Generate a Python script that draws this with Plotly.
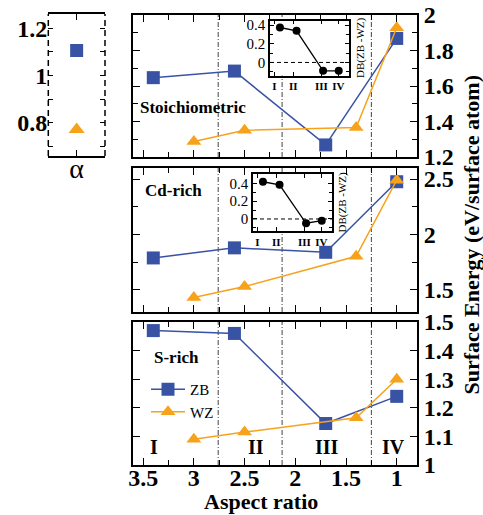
import plotly.graph_objects as go

W, H = 483, 515
FONT = "Liberation Serif, Times New Roman, serif"

# ---------------- data ----------------
aspect_zb = [3.4, 2.6, 1.7, 1.0]
aspect_wz = [3.0, 2.5, 1.4, 1.0]
stoich_zb = [1.647, 1.684, 1.268, 1.868]
stoich_wz = [1.287, 1.351, 1.366, 1.928]
cd_zb = [1.788, 1.879, 1.839, 2.476]
cd_wz = [1.43, 1.53, 1.803, 2.49]
s_zb = [1.47, 1.46, 1.145, 1.24]
s_wz = [1.09, 1.115, 1.165, 1.30]
alpha_zb = [1.106]
alpha_wz = [0.772]
region_bounds = [2.76, 2.13, 1.25]
region_labels = ["I", "II", "III", "IV"]
region_label_x = [3.39, 2.39, 1.69, 1.03]
inset_x = [0.63, 1.68, 3.36, 4.35]
inset_tick_x = [0.27, 1.47, 3.25, 4.33]
db_stoich = [0.375, 0.339, -0.09, -0.09]
db_cd = [0.418, 0.384, -0.048, -0.019]

ZB_COLOR = "#3953A4"
WZ_COLOR = "#F7A21B"


def xd(a, b):
    return [a / W, b / W]


def yd(top, bottom):
    return [1 - bottom / H, 1 - top / H]


fig = go.Figure()

panels = [
    ("x", "y", stoich_zb, stoich_wz, False),
    ("x2", "y2", cd_zb, cd_wz, False),
    ("x3", "y3", s_zb, s_wz, True),
]
for xa, ya, zb, wz, leg in panels:
    fig.add_trace(go.Scatter(x=aspect_zb, y=zb, xaxis=xa, yaxis=ya, name="ZB",
                             mode="lines+markers", showlegend=leg,
                             line=dict(color=ZB_COLOR, width=1.5),
                             marker=dict(symbol="square", size=13, color=ZB_COLOR)))
    fig.add_trace(go.Scatter(x=aspect_wz, y=wz, xaxis=xa, yaxis=ya, name="WZ",
                             mode="lines+markers", showlegend=leg,
                             line=dict(color=WZ_COLOR, width=1.5),
                             marker=dict(symbol="triangle-up", size=13, color=WZ_COLOR)))

# alpha panel
fig.add_trace(go.Scatter(x=[0], y=alpha_zb, xaxis="x4", yaxis="y4", mode="markers", showlegend=False,
                         marker=dict(symbol="square", size=13, color=ZB_COLOR)))
fig.add_trace(go.Scatter(x=[0], y=alpha_wz, xaxis="x4", yaxis="y4", mode="markers", showlegend=False,
                         marker=dict(symbol="triangle-up", size=14, color=WZ_COLOR)))

# insets
for xa, ya, vals in [("x5", "y5", db_stoich), ("x6", "y6", db_cd)]:
    fig.add_trace(go.Scatter(x=inset_x, y=vals, xaxis=xa, yaxis=ya, mode="lines+markers",
                             showlegend=False, line=dict(color="black", width=1.3),
                             marker=dict(symbol="circle", size=8, color="black")))

tickfont_big = dict(family=FONT, size=24, color="black", weight="bold")

main_x_common = dict(range=[3.6, 0.8], showline=True, linecolor="black", linewidth=2,
                     mirror="ticks", ticks="inside", ticklen=7, tickwidth=1.2, tickcolor="black",
                     tickvals=[3.5, 3, 2.5, 2, 1.5, 1], automargin=False,
                     minor=dict(dtick=0.25, tick0=1, ticks="inside", ticklen=5, tickcolor="black"),
                     showgrid=False, zeroline=False, tickfont=tickfont_big)
main_y_common = dict(side="right", showline=True, linecolor="black", linewidth=2,
                     mirror="ticks", ticks="inside", ticklen=7, tickwidth=1.2, tickcolor="black",
                     showgrid=False, zeroline=False, tickfont=tickfont_big, automargin=False)

mx = xd(133, 417)
fig.update_layout(
    xaxis=dict(domain=mx, anchor="y", showticklabels=False, **main_x_common),
    yaxis=dict(domain=yd(15, 157), anchor="x", range=[1.2, 2.0], dtick=0.2, tick0=0,
               minor=dict(dtick=0.1, ticks="inside", ticklen=5, tickcolor="black"), **main_y_common),
    xaxis2=dict(domain=mx, anchor="y2", showticklabels=False, **main_x_common),
    yaxis2=dict(domain=yd(168, 312), anchor="x2", range=[1.3, 2.6], dtick=0.5, tick0=0,
                minor=dict(dtick=0.25, ticks="inside", ticklen=5, tickcolor="black"), **main_y_common),
    xaxis3=dict(domain=mx, anchor="y3", showticklabels=True, ticklabelstandoff=-10, **main_x_common),
    yaxis3=dict(domain=yd(322, 465), anchor="x3", range=[1.0, 1.5], dtick=0.1, tick0=0,
                **main_y_common),
    xaxis4=dict(domain=xd(48.3, 105), anchor="y4", range=[-1, 1], tickvals=[0], ticktext=["α"],
                showline=True, linecolor="black", linewidth=2, mirror="ticks", ticks="inside",
                ticklen=6, tickwidth=1.2, tickcolor="black", showgrid=False, zeroline=False,
                automargin=False, ticklabelstandoff=-14,
                tickfont=dict(family=FONT, size=28, color="black")),
    yaxis4=dict(domain=yd(14, 156), anchor="x4", range=[0.66, 1.26], dtick=0.2, tick0=0,
                showline=False, mirror="ticks", ticks="inside", ticklen=5, tickwidth=1.2,
                tickcolor="black", showgrid=False, zeroline=False, automargin=False,
                minor=dict(dtick=0.1, ticks="inside", ticklen=5, tickcolor="black"),
                tickfont=tickfont_big),
    xaxis5=dict(domain=xd(270, 349), anchor="y5", range=[0, 5], tickvals=inset_tick_x,
                ticktext=region_labels, showline=True, linecolor="black", linewidth=1.5,
                mirror="ticks", ticks="inside", ticklen=4, tickcolor="black", showgrid=False,
                zeroline=False, automargin=False,
                tickfont=dict(family=FONT, size=11, color="black", weight="bold")),
    yaxis5=dict(domain=yd(20.5, 75.5), anchor="x5", range=[-0.14, 0.45], dtick=0.2, tick0=0,
                showline=True, linecolor="black", linewidth=1.5, mirror="ticks", ticks="inside",
                ticklen=4, tickcolor="black", showgrid=False, zeroline=False, automargin=False,
                minor=dict(dtick=0.1, ticks="inside", ticklen=3, tickcolor="black"),
                tickfont=dict(family=FONT, size=15, color="black")),
    xaxis6=dict(domain=xd(253, 332), anchor="y6", range=[0, 5], tickvals=inset_tick_x,
                ticktext=region_labels, showline=True, linecolor="black", linewidth=1.5,
                mirror="ticks", ticks="inside", ticklen=4, tickcolor="black", showgrid=False,
                zeroline=False, automargin=False,
                tickfont=dict(family=FONT, size=11, color="black", weight="bold")),
    yaxis6=dict(domain=yd(174, 231), anchor="x6", range=[-0.135, 0.505], dtick=0.2, tick0=0,
                showline=True, linecolor="black", linewidth=1.5, mirror="ticks", ticks="inside",
                ticklen=4, tickcolor="black", showgrid=False, zeroline=False, automargin=False,
                minor=dict(dtick=0.1, ticks="inside", ticklen=3, tickcolor="black"),
                tickfont=dict(family=FONT, size=15, color="black")),
)

shapes = []
for xa, ya in [("x", "y"), ("x2", "y2"), ("x3", "y3")]:
    for b in region_bounds:
        shapes.append(dict(type="line", xref=xa, yref=f"{ya} domain", x0=b, x1=b, y0=0, y1=1,
                           layer="below", line=dict(color="#444444", width=1, dash="5px,2px,1px,2px")))
# dashed side borders of alpha panel
for xv in [0, 1]:
    shapes.append(dict(type="line", xref="x4 domain", yref="y4 domain", x0=xv, x1=xv, y0=0, y1=1,
                       line=dict(color="black", width=1.5, dash="6px,4px")))
# zero lines in insets
for xa, ya in [("x5", "y5"), ("x6", "y6")]:
    shapes.append(dict(type="line", xref=f"{xa} domain", yref=ya, x0=0, x1=1, y0=0, y1=0,
                       line=dict(color="black", width=1, dash="4px,3px")))

annotations = [
    dict(text="Stoichiometric", x=138 / W, y=1 - 108 / H, xref="paper", yref="paper",
         xanchor="left", yanchor="middle", showarrow=False,
         font=dict(family=FONT, size=17, color="black", weight="bold")),
    dict(text="Cd-rich", x=143 / W, y=1 - 191 / H, xref="paper", yref="paper",
         xanchor="left", yanchor="middle", showarrow=False,
         font=dict(family=FONT, size=17, color="black", weight="bold")),
    dict(text="S-rich", x=152 / W, y=1 - 357 / H, xref="paper", yref="paper",
         xanchor="left", yanchor="middle", showarrow=False,
         font=dict(family=FONT, size=17, color="black", weight="bold")),
    dict(text="Surface Energy (eV/surface atom)", x=471 / W, y=1 - 234.5 / H,
         xref="paper", yref="paper", textangle=-90, showarrow=False,
         xanchor="center", yanchor="middle",
         font=dict(family=FONT, size=22, color="black", weight="bold")),
    dict(text="Aspect ratio", x=261 / W, y=1 - 501 / H, xref="paper", yref="paper",
         showarrow=False, xanchor="center", yanchor="middle",
         font=dict(family=FONT, size=22, color="black", weight="bold")),
    dict(text="DB(ZB -WZ)", x=360 / W, y=1 - 48 / H, xref="paper", yref="paper",
         textangle=-90, showarrow=False, xanchor="center", yanchor="middle",
         font=dict(family=FONT, size=11, color="black")),
    dict(text="DB(ZB -WZ)", x=342 / W, y=1 - 202.5 / H, xref="paper", yref="paper",
         textangle=-90, showarrow=False, xanchor="center", yanchor="middle",
         font=dict(family=FONT, size=11, color="black")),
]
for lab, lx in zip(region_labels, region_label_x):
    annotations.append(dict(text=lab, x=lx, y=0.126, xref="x3", yref="y3 domain",
                            showarrow=False, xanchor="center", yanchor="middle",
                            font=dict(family=FONT, size=20, color="black", weight="bold")))

fig.update_layout(
    width=W, height=H, margin=dict(l=0, r=0, t=0, b=0, pad=0, autoexpand=False),
    paper_bgcolor="white", plot_bgcolor="white",
    shapes=shapes, annotations=annotations,
    legend=dict(x=146 / W, y=1 - 373 / H, xanchor="left", yanchor="top",
                bgcolor="rgba(0,0,0,0)", font=dict(family=FONT, size=15, color="black"),
                tracegroupgap=0, itemwidth=34),
)

fig.write_html("out.html")
